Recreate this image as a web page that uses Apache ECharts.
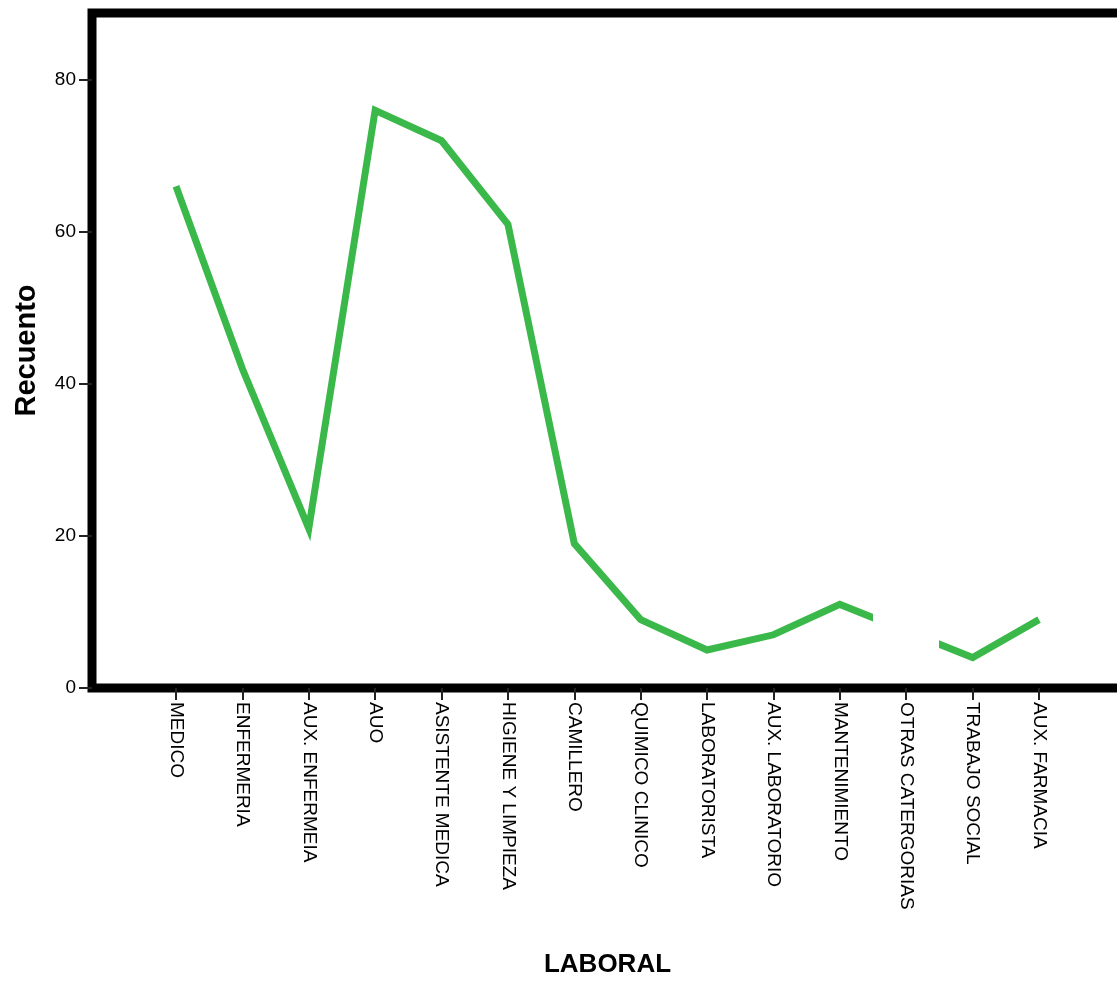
<!DOCTYPE html>
<html>
<head>
<meta charset="utf-8">
<script src="https://cdn.jsdelivr.net/npm/echarts@6/dist/echarts.min.js"></script>
<style>
  html, body { margin: 0; padding: 0; background: #ffffff; }
  #chart { width: 1117px; height: 981px; }
</style>
</head>
<body>
<div id="chart"></div>
<script>
// ---- data ----
var categories = ['MEDICO', 'ENFERMERIA', 'AUX. ENFERMEIA', 'AUO', 'ASISTENTE MEDICA',
  'HIGIENE Y LIMPIEZA', 'CAMILLERO', 'QUIMICO CLINICO', 'LABORATORISTA',
  'AUX. LABORATORIO', 'MANTENIMIENTO', 'OTRAS CATERGORIAS', 'TRABAJO SOCIAL', 'AUX. FARMACIA'];
var counts = [66, 42, 21, 76, 72, 61, 19, 9, 5, 7, 11, null, 4, 9];
var yTicks = [0, 20, 40, 60, 80];
var xTitle = 'LABORAL';
var yTitle = 'Recuento';

// ---- build ----
var xIdx = categories.map(function (c, i) { return i; });
var seriesData = counts.map(function (v, i) { return [i, v]; });
var missingIdx = counts.indexOf(null);

var lineColor = '#3bb84a';
var font = 'Liberation Sans, Arial, sans-serif';

var chart = echarts.init(document.getElementById('chart'), null, { renderer: 'canvas' });
chart.setOption({
  backgroundColor: '#ffffff',
  animation: false,
  grid: {
    left: 92, top: 13, right: -6, bottom: 293,
    show: true, borderColor: '#000000', borderWidth: 9, backgroundColor: 'transparent',
    outerBoundsMode: 'none', containLabel: false
  },
  xAxis: {
    type: 'value',
    min: -1.265, max: categories.length - 1 + 1.265,
    name: xTitle, nameLocation: 'middle', nameGap: 264,
    nameTextStyle: { fontFamily: font, fontSize: 26, fontWeight: 'bold', color: '#000' },
    axisLine: { show: false, onZero: false },
    splitLine: { show: false },
    axisTick: { show: true, customValues: xIdx, length: 12, lineStyle: { color: '#222', width: 2 } },
    axisLabel: {
      customValues: xIdx, rotate: -90, margin: 14,
      fontFamily: font, fontSize: 19, color: '#000',
      formatter: function (v) { return categories[Math.round(v)] || ''; }
    }
  },
  yAxis: {
    type: 'value', min: 0, max: 88.8,
    name: yTitle, nameLocation: 'middle', nameGap: 51, nameRotate: 90,
    nameTextStyle: { fontFamily: font, fontSize: 29, fontWeight: 'bold', color: '#000' },
    axisLine: { show: false, onZero: false },
    splitLine: { show: false },
    axisTick: { show: true, customValues: yTicks, length: 13, lineStyle: { color: '#222', width: 2 } },
    axisLabel: {
      customValues: yTicks, margin: 16,
      fontFamily: font, fontSize: 19, color: '#000'
    }
  },
  visualMap: {
    show: false, type: 'piecewise', dimension: 0, seriesIndex: 0,
    pieces: [
      { lt: missingIdx - 0.5, color: lineColor },
      { gte: missingIdx - 0.5, lte: missingIdx + 0.5, color: 'rgba(255,255,255,0)' },
      { gt: missingIdx + 0.5, color: lineColor }
    ]
  },
  series: [{
    type: 'line',
    data: seriesData,
    connectNulls: true,
    showSymbol: false,
    symbol: 'none',
    lineStyle: { width: 7, cap: 'butt', join: 'miter' },
    z: 1
  }]
});
</script>
</body>
</html>
